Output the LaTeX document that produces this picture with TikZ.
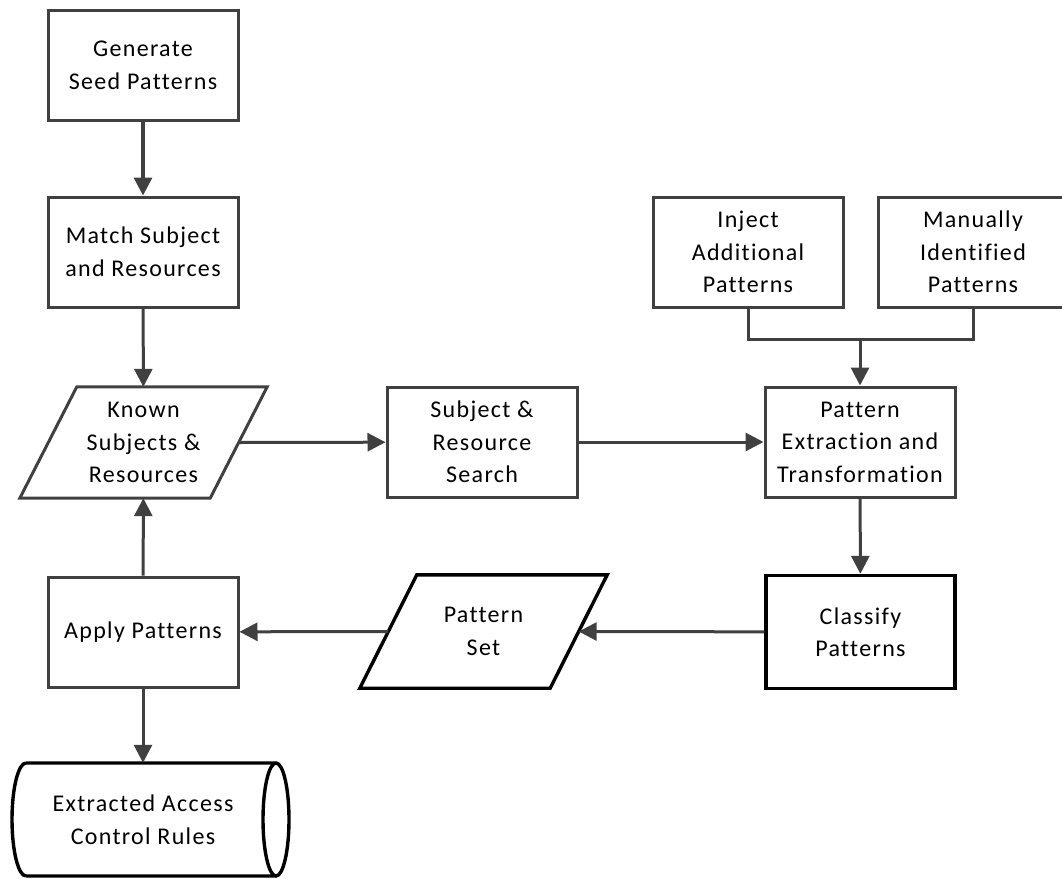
\documentclass[tikz,border=0pt]{standalone}
\usepackage{fontspec}
\setmainfont{Carlito}[Ligatures=NoCommon, LetterSpace=5.5]
\usetikzlibrary{arrows.meta}
\definecolor{linegray}{HTML}{404040}
\tikzset{
  every node/.style={font=\fontsize{24}{32.5}\selectfont, align=center, inner sep=0pt},
  procbox/.style={draw=linegray, line width=3pt, minimum width=190pt, minimum height=110pt},
  keybox/.style={draw=black, line width=3.4pt, minimum width=189pt, minimum height=113pt},
  databox/.style={minimum width=190pt, minimum height=111pt},
  flow/.style={draw=linegray, line width=3pt, -{Triangle[length=18pt,width=18pt]}},
  link/.style={draw=linegray, line width=3pt},
}
\begin{document}
\begin{tikzpicture}[x=1pt, y=-1pt]
\useasboundingbox (0,0) rectangle (1062,878);

% process boxes
\node[procbox] (seed)    at (143,65.5) {Generate\\Seed Patterns};
\node[procbox] (match)   at (143,252)  {Match Subject\\and Resources};
\node[procbox] (search)  at (482,442)  {Subject \&\\Resource\\Search};
\node[procbox] (extract) at (860,442)  {Pattern\\Extraction and\\Transformation};
\node[procbox] (inject)  at (748,252)  {Inject\\Additional\\Patterns};
\node[procbox] (manual)  at (973,252)  {Manually\\Identified\\Patterns};
\node[procbox] (apply)   at (143,632)  {Apply Patterns};
\node[keybox]  (classify) at (860.5,632) {Classify\\Patterns};

% data (parallelogram) nodes: the text node spans the mid-height width
\node[databox] (known) at (143.5,442.5) {Known\\Subjects \&\\Resources};
\draw[linegray, line width=3pt, line join=miter]
  ([xshift=-28.5pt]known.south west) -- ([xshift=-28.5pt]known.south east)
  -- ([xshift=28.5pt]known.north east) -- ([xshift=28.5pt]known.north west) -- cycle;

\node[databox, minimum height=113pt] (pset) at (483.5,631.5) {Pattern\\Set};
\draw[black, line width=3.4pt, line join=miter]
  ([xshift=-28.5pt]pset.south west) -- ([xshift=-28.5pt]pset.south east)
  -- ([xshift=28.5pt]pset.north east) -- ([xshift=28.5pt]pset.north west) -- cycle;

% stored data (horizontal cylinder)
\node[minimum width=230pt, minimum height=113pt] (rules) at (143,819.5) {Extracted Access\\Control Rules};
\draw[black, line width=3.4pt]
  (26,763) -- (276,763)
  (26,876) -- (276,876)
  (26,763) arc[start angle=270, end angle=90, x radius=14, y radius=56.5]
  (276,819.5) ellipse[x radius=13, y radius=56.5];

% connectors
\coordinate (join) at (860,339);
\draw[flow, line width=3.4pt] (seed) -- (match);
\draw[flow] (match) -- (known);
\draw[flow] (apply) -- (known);
\draw[flow] (known.east) -- (search);
\draw[flow] (search) -- (extract);
\draw[link] (inject.south) |- (join);
\draw[link] (manual.south) |- (join);
\draw[flow] (join) -- (extract.north);
\draw[flow] (extract) -- (classify);
\draw[flow] (classify) -- (pset.east);
\draw[flow] (pset.west) -- (apply);
\draw[flow] (apply) -- (rules.north);
\end{tikzpicture}
\end{document}
